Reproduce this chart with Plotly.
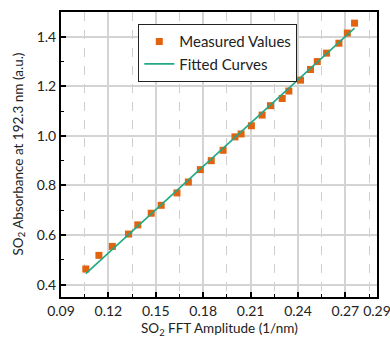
import plotly.graph_objects as go

meas_x = [0.1057, 0.1140, 0.1225, 0.1327, 0.1386, 0.1471, 0.1534, 0.1634, 0.1706,
          0.1782, 0.1851, 0.1926, 0.2001, 0.2040, 0.2105, 0.2173, 0.2226, 0.2300,
          0.2342, 0.2416, 0.2479, 0.2522, 0.2581, 0.2659, 0.2712, 0.2758]
meas_y = [0.463, 0.518, 0.554, 0.604, 0.641, 0.688, 0.720, 0.770, 0.814,
          0.864, 0.900, 0.942, 0.996, 1.008, 1.041, 1.084, 1.122, 1.151,
          1.181, 1.225, 1.268, 1.300, 1.334, 1.374, 1.415, 1.455]
fit_x = [0.1057, 0.2758]
fit_y = [0.444, 1.435]

x_ticks = [0.09, 0.12, 0.15, 0.18, 0.21, 0.24, 0.27, 0.29]
x_ticklabels = ["0.09", "0.12", "0.15", "0.18", "0.21", "0.24", "0.27", "0.29"]
x_minor = [0.105, 0.135, 0.165, 0.195, 0.225, 0.255, 0.285]
y_ticks = [0.4, 0.6, 0.8, 1.0, 1.2, 1.4]
y_ticklabels = ["0.4", "0.6", "0.8", "1.0", "1.2", "1.4"]
y_minor = [0.5, 0.7, 0.9, 1.1, 1.3]
x_title = "SO<sub>2</sub> FFT Amplitude (1/nm)"
y_title = "SO<sub>2</sub> Absorbance at 192.3 nm (a.u.)"

FONT = "Lato"
fig = go.Figure()
fig.add_trace(go.Scatter(x=meas_x, y=meas_y, mode="markers", name="Measured Values",
                         marker=dict(symbol="square", size=7, color="#E2630F")))
fig.add_trace(go.Scatter(x=fit_x, y=fit_y, mode="lines", name="Fitted Curves",
                         line=dict(color="#22A884", width=1.6)))

fig.update_layout(
    width=390, height=341,
    margin=dict(l=61, r=13, t=12, b=44),
    paper_bgcolor="white", plot_bgcolor="white",
    font=dict(family=FONT, size=14, color="#222"),
    showlegend=True,
    legend=dict(x=0.244, y=0.958, xanchor="left", yanchor="top",
                bordercolor="#222", borderwidth=1.2, bgcolor="white",
                font=dict(size=15), tracegroupgap=0, itemwidth=30),
    annotations=[
        dict(text=x_title, xref="paper", yref="paper", x=0.5, y=0, yshift=-32,
             xanchor="center", yanchor="middle", showarrow=False,
             font=dict(size=13.5, family=FONT, color="#222")),
        dict(text=y_title, xref="paper", yref="paper", x=0, y=0.5, xshift=-43,
             xanchor="center", yanchor="middle", textangle=-90, showarrow=False,
             font=dict(size=13.5, family=FONT, color="#222")),
    ],
)
fig.update_xaxes(
    range=[0.09, 0.29], tickmode="array", tickvals=x_ticks, ticktext=x_ticklabels,
    showline=True, linecolor="black", linewidth=2, mirror=True,
    ticks="inside", ticklen=5, tickwidth=1.5, tickcolor="black",
    showgrid=True, gridcolor="#d4d4d4", gridwidth=1.5, zeroline=False,
    automargin=False, tickangle=0, ticklabeloverflow="allow",
    minor=dict(tickmode="array", tickvals=x_minor, ticks="inside", ticklen=3,
               tickwidth=1.2, tickcolor="black", showgrid=True,
               gridcolor="#cfcfcf", griddash="dash", gridwidth=1),
)
fig.update_yaxes(
    range=[0.35, 1.5], tickmode="array", tickvals=y_ticks, ticktext=y_ticklabels,
    showline=True, linecolor="black", linewidth=2, mirror=True,
    ticks="inside", ticklen=5, tickwidth=1.5, tickcolor="black",
    showgrid=True, gridcolor="#d4d4d4", gridwidth=1.5, zeroline=False,
    automargin=False, ticklabeloverflow="allow",
    minor=dict(tickmode="array", tickvals=y_minor, ticks="inside", ticklen=3,
               tickwidth=1.2, tickcolor="black", showgrid=False),
)
fig.write_html("out.html")
